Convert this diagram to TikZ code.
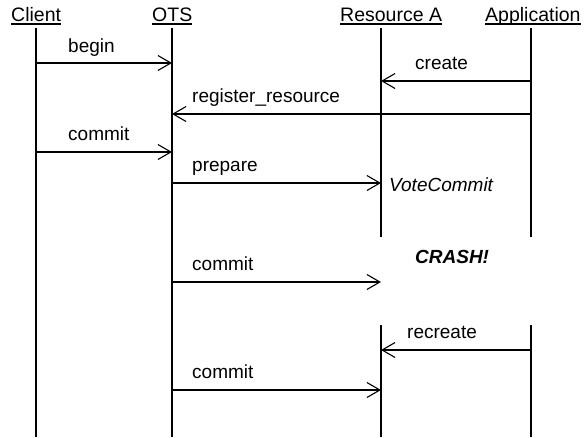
\documentclass[tikz,border=0pt]{standalone}
\usepackage{fontspec}
\setmainfont{Liberation Sans}
\usetikzlibrary{arrows.meta}
\begin{document}
\begin{tikzpicture}[x=1pt,y=-1pt,
  lifeline/.style={line width=1.1pt},
  msg/.style={line width=1.1pt,-{Straight Barb[length=13pt,width=15pt,line width=1.1pt]}},
  lbl/.style={anchor=base west,inner sep=0pt,font=\fontsize{19pt}{22pt}\selectfont},
  hdr/.style={anchor=base west,inner sep=0pt,font=\fontsize{19.5pt}{22pt}\selectfont},
  uline/.style={line width=1.1pt}]
\useasboundingbox (0,0) rectangle (587,437);
% headers
\node[hdr] (hc) at (11,21) {Client};
\node[hdr] (ho) at (152,21) {OTS};
\node[hdr] (hr) at (340,21) {Resource A};
\node[hdr] (ha) at (485,21) {Application};
\foreach \h in {hc,ho,hr,ha}{
  \draw[uline] ([yshift=-3pt]\h.base west) -- ([yshift=-3pt]\h.base east);
}
% lifeline coordinates
\coordinate (ct) at (36,28);  \coordinate (cb) at (36,437);
\coordinate (ot) at (172,28); \coordinate (ob) at (172,437);
\coordinate (rt) at (381,28); \coordinate (rg1) at (381,237);
\coordinate (rg2) at (381,325); \coordinate (rb) at (381,437);
\coordinate (at) at (531,28); \coordinate (ag1) at (531,237);
\coordinate (ag2) at (531,325); \coordinate (ab) at (531,437);
\draw[lifeline] (ct) -- (cb);
\draw[lifeline] (ot) -- (ob);
\draw[lifeline] (rt) -- (rg1);
\draw[lifeline] (rg2) -- (rb);
\draw[lifeline] (at) -- (ag1);
\draw[lifeline] (ag2) -- (ab);
% message end points
\coordinate (c1) at (36,63);   \coordinate (o1) at (172,63);
\coordinate (a2) at (531,81);  \coordinate (r2) at (381,81);
\coordinate (a3) at (531,114); \coordinate (o3) at (172,114);
\coordinate (c4) at (36,152);  \coordinate (o4) at (172,152);
\coordinate (o5) at (172,183); \coordinate (r5) at (381,183);
\coordinate (o6) at (172,282); \coordinate (r6) at (381,282);
\coordinate (a7) at (531,350); \coordinate (r7) at (381,350);
\coordinate (o8) at (172,390); \coordinate (r8) at (381,390);
\draw[msg] (c1) -- (o1);
\draw[msg] (a2) -- (r2);
\draw[msg] (a3) -- (o3);
\draw[msg] (c4) -- (o4);
\draw[msg] (o5) -- (r5);
\draw[msg] (o6) -- (r6);
\draw[msg] (a7) -- (r7);
\draw[msg] (o8) -- (r8);
% labels
\node[lbl] (l1) at (68,52) {begin};
\node[lbl] (l2) at (415,69) {create};
\node[lbl] (l3) at (192,102) {register\_resource};
\node[lbl] (l4) at (68,140) {commit};
\node[lbl] (l5) at (192,171) {prepare};
\node[lbl,font=\fontsize{19pt}{22pt}\selectfont\itshape] (l5b) at (389,191) {VoteCommit};
\node[lbl,font=\fontsize{19pt}{22pt}\selectfont\bfseries\itshape] (crash) at (415,263) {CRASH!};
\node[lbl] (l6) at (192,270) {commit};
\node[lbl] (l7) at (407,338) {recreate};
\node[lbl] (l8) at (192,378) {commit};
\end{tikzpicture}
\end{document}
